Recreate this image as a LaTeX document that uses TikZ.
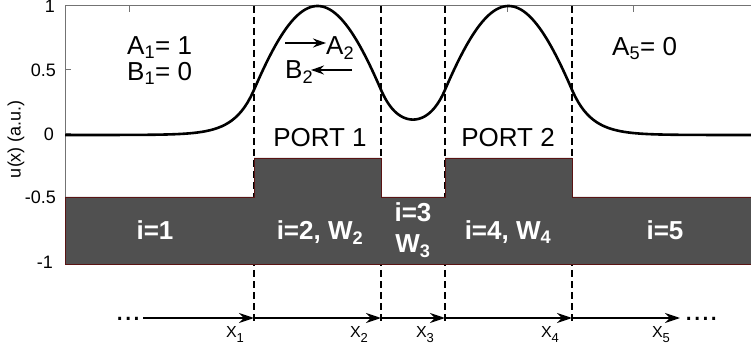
\documentclass[tikz,border=0pt]{standalone}
\usepackage{fontspec}
\setmainfont{Liberation Sans}
\usetikzlibrary{arrows.meta}
\definecolor{blockgray}{RGB}{80,80,80}
\definecolor{edgered}{RGB}{90,20,20}
\definecolor{axisgray}{RGB}{115,115,115}
\newcommand{\xsub}[1]{\raisebox{-5pt}{\fontsize{13}{14}\selectfont #1}}
\tikzset{
  curve/.style={line width=2.6pt, line join=round},
  dashline/.style={dash pattern=on 7pt off 4pt, line width=1.4pt},
  blk/.style={fill=blockgray, draw=edgered, line width=0.8pt},
  axisline/.style={draw=axisgray, line width=1pt},
  lbl/.style={font=\fontsize{26}{30}\selectfont, inner sep=0pt},
  wlbl/.style={inner sep=0pt, text=white, font=\bfseries\fontsize{26}{30}\selectfont},
  ticklbl/.style={font=\fontsize{18}{20}\selectfont, anchor=east, inner sep=0pt},
  xlbl/.style={font=\fontsize{16}{18}\selectfont, inner sep=0pt, anchor=base},
  arr/.style={-{Stealth[length=15pt,width=10pt]}, line width=2pt},
  sarr/.style={-{Stealth[length=13pt,width=9pt]}, line width=1.7pt},
  dotlbl/.style={font=\fontsize{30}{30}\selectfont, inner sep=0pt, anchor=base west},
}
\begin{document}
\begin{tikzpicture}[x=1pt,y=-1pt]
\useasboundingbox (0,0) rectangle (751,352);
% axes
\coordinate (tl) at (65,6);
\coordinate (tr) at (751,6);
\coordinate (bl) at (65,264);
\draw[axisline] (tr) -- (tl) -- (bl);
\foreach \t in {129,507,633} \draw[axisline] (\t,6) -- (\t,12);
\foreach \t in {70,134} \draw[axisline] (65,\t) -- (71,\t);
\node[ticklbl] (t1) at (55,6) {1};
\node[ticklbl] (t2) at (56,70) {0.5};
\node[ticklbl] (t3) at (54,134) {0};
\node[ticklbl] (t4) at (56,197) {-0.5};
\node[ticklbl] (t5) at (53,262) {-1};
\node[font=\fontsize{18}{20}\selectfont, rotate=90, inner sep=0pt] (ylab) at (16,139) {u(x) (a.u.)};
% dashed interface lines
\foreach \n/\xx in {1/254,2/381,3/445,4/572}{
  \coordinate (d\n t) at (\xx,6);
  \coordinate (d\n b) at (\xx,322);
  \draw[dashline] (d\n t) -- (d\n b);
}
% waveguide block
\draw[blk] (65,197) -- (254,197) -- (254,158) -- (381,158) -- (381,197) -- (445,197)
  -- (445,158) -- (572,158) -- (572,197) -- (751,197) -- (751,264) -- (65,264) -- cycle;
% mode profile
\draw[curve] plot[domain=65:254,samples=60] (\x,{135-129*0.35*exp(0.0511*(\x-254))})
  -- plot[domain=254:381,samples=80] (\x,{135-129*cos(deg(0.01910*(\x-317.5)))})
  -- plot[domain=381:445,samples=50] (\x,{135-129*0.1195*cosh(0.0543*(\x-413))})
  -- plot[domain=445:572,samples=80] (\x,{135-129*cos(deg(0.01910*(\x-508.5)))})
  -- plot[domain=572:751,samples=60] (\x,{135-129*0.35*exp(-0.0511*(\x-572))});
% labels in upper part
\node[lbl, anchor=base west] (A1) at (127,55) {A\textsubscript{1}= 1};
\node[lbl, anchor=base west] (B1) at (127,81) {B\textsubscript{1}= 0};
\node[lbl, anchor=base west] (A2) at (326,55) {A\textsubscript{2}};
\node[lbl, anchor=base west] (B2) at (285,79) {B\textsubscript{2}};
\coordinate (a2s) at (285,43);
\coordinate (a2e) at (326,43);
\coordinate (b2s) at (352,70);
\coordinate (b2e) at (311,70);
\draw[sarr] (a2s) -- (a2e);
\draw[sarr] (b2s) -- (b2e);
\node[lbl, anchor=base west] (A5) at (612,56) {A\textsubscript{5}= 0};
\node[lbl, anchor=base] (P1) at (320,147) {PORT 1};
\node[lbl, anchor=base] (P2) at (508,147) {PORT 2};
% labels in the block
\node[wlbl, anchor=base] (i1) at (155,240) {i=1};
\node[wlbl, anchor=base] (i2) at (320,240) {i=2, W\textsubscript{2}};
\node[wlbl, anchor=base] (i3) at (413,222) {i=3};
\node[wlbl, anchor=base] (w3) at (413,253) {W\textsubscript{3}};
\node[wlbl, anchor=base] (i4) at (508,240) {i=4, W\textsubscript{4}};
\node[wlbl, anchor=base] (i5) at (665,240) {i=5};
% position axis
\node[dotlbl] (dl) at (115.5,320) {...};
\node[dotlbl] (dr) at (684.5,320) {....};
\coordinate (p0) at (143,318);
\coordinate (p1) at (254,318);
\coordinate (p2) at (381,318);
\coordinate (p3) at (445,318);
\coordinate (p4) at (572,318);
\coordinate (p5) at (680,318);
\draw[arr] (p0) -- (p1);
\draw[arr] (p1) -- (p2);
\draw[arr] (p2) -- (p3);
\draw[arr] (p3) -- (p4);
\draw[arr] (p4) -- (p5);
\node[xlbl] (x1) at (235,337) {X\xsub{1}};
\node[xlbl] (x2) at (359,337) {X\xsub{2}};
\node[xlbl] (x3) at (425,337) {X\xsub{3}};
\node[xlbl] (x4) at (550,337) {X\xsub{4}};
\node[xlbl] (x5) at (661,337) {X\xsub{5}};
\end{tikzpicture}
\end{document}
